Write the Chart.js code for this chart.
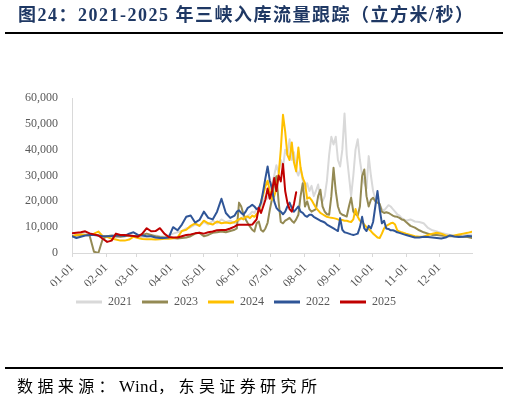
<!DOCTYPE html>
<html>
<head>
<meta charset="utf-8">
<script src="https://cdn.jsdelivr.net/npm/chart.js@4.4.1/dist/chart.umd.min.js"></script>
<style>
  body { margin: 0; width: 509px; height: 401px; background: #fff; position: relative; overflow: hidden; }
  #grafico { position: absolute; left: 0; top: 0; }
  #titulo {
    position: absolute; left: 18px; top: 4px; white-space: nowrap;
    font-family: 'Liberation Serif', 'Noto Sans CJK SC', serif; font-weight: bold;
    font-size: 18px; line-height: 22px; letter-spacing: 1.5px; color: #1f3864;
  }
  .regua { position: absolute; left: 5px; width: 498px; height: 2px; background: #000; }
  #fonte {
    position: absolute; left: 17px; top: 376px; white-space: nowrap;
    font-family: 'Liberation Serif', 'Noto Sans CJK SC', serif;
    font-size: 16px; line-height: 22px; letter-spacing: 4.4px; color: #000;
  }
  #fonte .latim { font-size: 17px; letter-spacing: 0.5px; }
</style>
</head>
<body>
<canvas id="grafico" width="509" height="401"></canvas>
<div id="titulo">图24：2021-2025 年三峡入库流量跟踪（立方米/秒）</div>
<div class="regua" style="top:32px"></div>
<div class="regua" style="top:367px"></div>
<div id="fonte">数据来源：<span class="latim">Wind</span>，东吴证券研究所</div>

<script>
// dia do ano (0 = 01-01)
const dias = [
    0, 4, 8, 12, 16, 20, 24, 28, 32, 36, 40, 44, 48, 52, 56, 60, 64, 68, 72, 76,
    80, 84, 88, 92, 96, 100, 104, 108, 112, 116, 120, 124, 128, 132, 136, 140, 144, 148,
    150, 152, 154, 156, 158, 160, 162, 164, 166, 168, 170, 172, 174, 176, 178, 180,
    182, 184, 186, 188, 190, 192, 194, 196, 198, 200, 202, 204, 206, 208, 210, 212,
    214, 216, 218, 220, 222, 224, 226, 228, 230, 232, 234, 236, 238, 240, 242, 244,
    246, 248, 250, 252, 254, 256, 258, 260, 262, 264, 266, 268, 270, 272, 274, 276,
    278, 280, 282, 284, 286, 288, 290, 292, 294, 296, 298, 300, 302, 304,
    308, 312, 316, 320, 324, 328, 332, 336, 340, 344, 348, 352, 356, 360, 364
];

const inicioMes = [0, 31, 59, 90, 120, 151, 181, 212, 243, 273, 304, 334];
const etiquetasMes = ['01-01', '02-01', '03-01', '04-01', '05-01', '06-01',
    '07-01', '08-01', '09-01', '10-01', '11-01', '12-01'];

const caudal2021 = [
    6500, 7000, 7500, 8000, 7500, 7000, 6800, 6500, 6300, 6000, 6200, 6500, 6800, 6500, 6300, 6200, 6000, 6200, 6500, 6800,
    6500, 6300, 6800, 7500, 8000, 8500, 9500, 10000, 11000, 10500, 12000, 11000, 12500, 11500, 13000, 12000, 12500, 11500,
    12000, 12500, 13500, 14000, 13000, 14500, 15000, 16000, 15500, 17000, 16500, 18000, 20000, 22000, 21000, 24000,
    27000, 30000, 34000, 31000, 36000, 33000, 40000, 38000, 44000, 36000, 39000, 32000, 30000, 33000, 28000, 25000,
    27000, 24000, 26000, 22000, 24000, 26500, 21000, 20000, 22000, 28000, 38000, 45000, 42000, 45000, 36000, 33500,
    40000, 54000, 38000, 30000, 22000, 30000, 40000, 44000, 36000, 30000, 27000, 25000, 37500, 30000, 24000, 21000,
    20000, 18500, 17000, 16500, 17500, 18500, 18000, 17000, 16000, 15000, 14500, 13500, 13000, 12500,
    13000, 12200, 12000, 11500, 9700, 8800, 8300, 7800, 7400, 7000, 6800, 6800, 7000, 7000, 7200
];

const caudal2022 = [
    6500, 5800, 6300, 6800, 7000, 7000, 6800, 6500, 6500, 6600, 6800, 6800, 6600, 7500, 8000, 7000, 6800, 6500, 6500, 6000,
    5800, 5800, 6000, 10000, 8800, 11000, 14000, 14500, 11800, 12800, 16000, 13600, 13000, 16000, 21000, 15500, 13600, 14500,
    16000, 16500, 15500, 14800, 16000, 17500, 18000, 18700, 18000, 17000, 17500, 19500, 24000, 29000, 33500, 28000,
    25000, 20000, 17500, 16500, 16000, 15000, 16000, 18000, 19500, 17500, 16000, 17000, 18000, 16000, 15500, 14500,
    14000, 14800, 14800, 14000, 13500, 13000, 12500, 12200, 11800, 11000, 10500, 10000, 9500, 9000, 8500, 13500,
    9000, 8000, 7800, 7500, 7200, 7000, 7200, 7500, 10000, 14000, 9500, 8500, 10500, 9500, 12000, 18000,
    24000, 17000, 11500, 12500, 9500, 9300, 8800, 8800, 8500, 8000, 7800, 7500, 7200, 7000,
    6500, 6000, 6000, 6300, 6200, 6000, 5800, 5600, 6000, 6800, 6400, 6200, 6300, 6600, 6500
];

const caudal2023 = [
    6500, 6800, 7000, 7000, 6800, 500, 0, 5500, 6500, 6800, 6500, 6300, 6500, 6800, 6500, 6800, 7000, 7500, 7000, 6500,
    6200, 6000, 6000, 5800, 5600, 5800, 6000, 6500, 7500, 7800, 6500, 7000, 7800, 8000, 8300, 8000, 8500, 9000,
    9500, 19500, 18000, 15000, 13000, 11500, 10200, 9000, 8300, 11500, 12200, 8900, 8300, 9500, 11700, 16700,
    21000, 27000, 29700, 20000, 12000, 11500, 12500, 13000, 13600, 12500, 11700, 13000, 14800, 22000, 27000, 18000,
    20000, 17000, 16000, 16500, 17000, 22000, 24500, 18000, 16000, 15000, 14800, 22000, 33000, 24000, 18000, 15500,
    14800, 14500, 14100, 18000, 21400, 16000, 15000, 14500, 18000, 29700, 32300, 22000, 18000, 20600, 21400, 20000,
    19500, 19000, 16000, 15500, 15800, 15500, 15000, 14500, 14100, 14000, 13600, 13000, 12800, 12000,
    10500, 9800, 8800, 8000, 7500, 7000, 7000, 6800, 6600, 6500, 6600, 6500, 6300, 6200, 5800
];

const caudal2024 = [
    6500, 7000, 7200, 7000, 7200, 7500, 8300, 6500, 6300, 5500, 5200, 4800, 4800, 5200, 6300, 5800, 5400, 5300, 5300, 5200,
    5300, 5500, 5500, 5700, 6000, 8500, 9000, 10500, 11500, 10500, 12500, 11500, 11000, 12200, 11500, 11800, 11500, 12000,
    12500, 13000, 13500, 13000, 14000, 14100, 13500, 14500, 14000, 15000, 16000, 20000, 22500, 25800, 28000, 24000,
    20600, 22000, 25000, 30000, 40000, 53500, 47000, 38000, 36000, 42800, 35000, 31600, 40800, 33000, 29000, 27000,
    21000, 21500, 20500, 19000, 17500, 16500, 15500, 15000, 14500, 14000, 13800, 13600, 13500, 13300, 13000, 12800,
    12800, 12500, 12500, 12200, 12000, 13000, 17000, 14000, 12500, 12000, 11000, 10000, 9300, 8500, 7500, 6800,
    6000, 5800, 7500, 9500, 10500, 11000, 11500, 11700, 11000, 8800, 8300, 8000, 7800, 7500,
    7000, 6500, 6300, 6300, 7000, 7500, 7800, 7500, 6800, 6600, 6800, 7200, 7500, 7800, 8200
];

// 2025 só até fim de julho
const caudal2025 = [
    7600, 7800, 8000, 8400, 7600, 7200, 6800, 5500, 4300, 4800, 7500, 7000, 7000, 6800, 6600, 6300, 7500, 9600, 8400, 8500,
    9600, 7500, 6200, 6000, 6000, 6500, 7000, 7200, 7600, 7800, 7500, 8000, 8300, 8800, 8900, 8900, 9500, 10200,
    10800, 10900, 10900, 10900, 10900, 10900, 10900, 11000, 12000, 13000, 17500, 15500, 18000, 20600, 25000, 21000,
    24000, 29000, 24000, 30000, 27700, 34500, 24000, 19500, 17000, 16000, 19000, 23500
];

function pontos(valores) {
    return valores.map((v, i) => ({ x: dias[i], y: v }));
}

function serie(nome, valores, cor) {
    return {
        label: nome,
        data: pontos(valores),
        borderColor: cor,
        backgroundColor: cor,
        borderWidth: 2,
        pointRadius: 0,
        tension: 0,
        borderJoinStyle: 'round',
        borderCapStyle: 'round'
    };
}

Chart.defaults.font.family = "'Liberation Serif', 'Times New Roman', serif";
Chart.defaults.color = '#595959';

const ctx = document.getElementById('grafico');

new Chart(ctx, {
    type: 'line',
    data: {
        // ordem invertida: o primeiro fica por cima
        datasets: [
            serie('2025', caudal2025, '#C00000'),
            serie('2022', caudal2022, '#2F5597'),
            serie('2024', caudal2024, '#FFC000'),
            serie('2023', caudal2023, '#948A54'),
            serie('2021', caudal2021, '#D9D9D9')
        ]
    },
    options: {
        responsive: false,
        animation: false,
        layout: { padding: { top: 98, right: 37, bottom: 83, left: 0 } },
        plugins: {
            tooltip: { enabled: false },
            legend: {
                position: 'bottom',
                reverse: true,
                labels: {
                    boxWidth: 26,
                    boxHeight: 3,
                    padding: 10,
                    color: '#595959',
                    font: { size: 12 },
                    generateLabels: function (chart) {
                        const itens = Chart.defaults.plugins.legend.labels.generateLabels(chart);
                        return itens.map(item => Object.assign(item, { lineWidth: 0 }));
                    }
                }
            }
        },
        scales: {
            x: {
                type: 'linear',
                min: 0,
                max: 364,
                afterBuildTicks: function (scale) {
                    scale.ticks = inicioMes.map(v => ({ value: v }));
                },
                afterFit: function (scale) {
                    scale.height = 33;
                },
                ticks: {
                    autoSkip: false,
                    minRotation: 45,
                    maxRotation: 45,
                    padding: 4,
                    color: '#595959',
                    font: { size: 12 },
                    callback: function (valor, indice) {
                        return etiquetasMes[indice];
                    }
                },
                grid: { display: true, drawOnChartArea: false, tickLength: 4, color: '#d9d9d9' },
                border: { color: '#d9d9d9' }
            },
            y: {
                min: 0,
                max: 60000,
                afterFit: function (scale) {
                    scale.width = 72;
                },
                ticks: {
                    stepSize: 10000,
                    padding: 14,
                    color: '#595959',
                    font: { size: 12 },
                    callback: function (valor) {
                        return valor.toLocaleString('en-US');
                    }
                },
                grid: { display: false, drawTicks: false },
                border: { color: '#d9d9d9' }
            }
        }
    }
});
</script>
</body>
</html>
